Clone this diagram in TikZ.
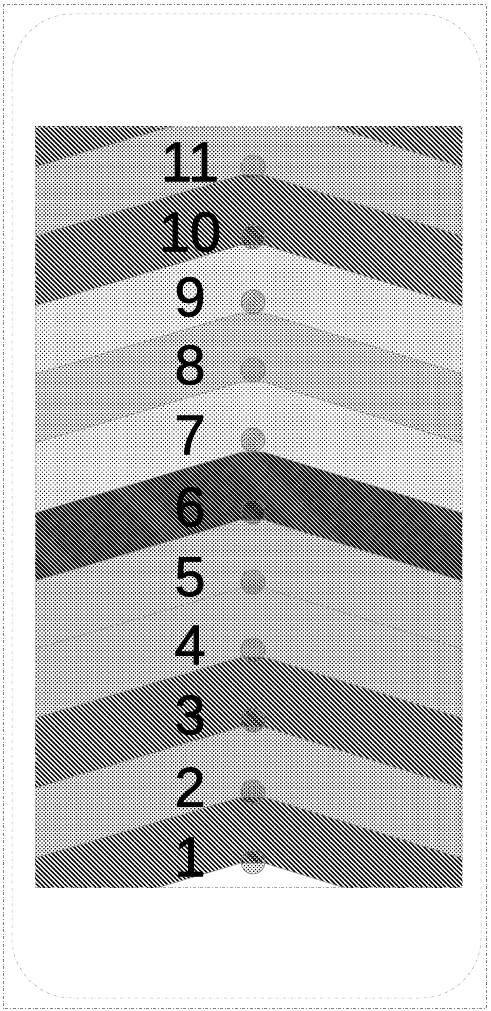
\documentclass[tikz,border=0pt]{standalone}
\usepackage{fontspec}
\setmainfont{Liberation Sans}
\usetikzlibrary{patterns.meta}
\begin{document}
\begin{tikzpicture}[x=1pt,y=-1pt,
  hatch/.style={pattern={Lines[angle=-45,distance=3.3pt,line width=1.5pt]},pattern color=black},
  hatchdark/.style={pattern={Lines[angle=-45,distance=3pt,line width=1.9pt]},pattern color=black},
  dotsmed/.style={pattern={Dots[angle=45,distance=2.7pt,radius=0.9pt]},pattern color=black},
  dotslight/.style={pattern={Dots[angle=45,distance=3pt,radius=0.75pt]},pattern color=black},
  dotscirc/.style={pattern={Dots[angle=45,distance=2.6pt,radius=0.8pt]},pattern color=black},
  bline/.style={draw=gray!80,line width=0.6pt},
  numlabel/.style={font=\fontsize{56}{56}\selectfont\addfontfeature{FakeBold=1.2},inner sep=0pt},
  marker/.style={circle,minimum size=24pt,inner sep=0pt,draw=gray,line width=0.7pt,dotscirc}]
\useasboundingbox (0,0) rectangle (490,1011);
\draw[dash dot,gray,line width=0.5pt] (3,4) rectangle (486,1008);
\draw[dash dot,gray!70,line width=0.5pt,rounded corners=60pt] (12,14) rectangle (481,998);
\begin{scope}
\clip (35,127) rectangle (462,887);
\fill[hatch] (35,100) -- (462,100) -- (462,167) -- (264,106) -- (241,106) -- (35,167) -- cycle;
\foreach \a/\b/\s in {106/175/dotsmed,175/245/hatch,245/313/dotslight,313/382/dotsmed,382/452/dotslight,452/520/hatchdark,520/588/dotsmed,588/657/dotsmed,657/727/hatch,727/797/dotsmed,797/863/hatch}{
  \fill[\s] (35,{\a+61}) -- (241,\a) -- (264,\a) -- (462,{\a+61}) -- (462,{\b+61}) -- (264,\b) -- (241,\b) -- (35,{\b+61}) -- cycle;
}
\foreach \a in {106,175,245,313,382,452,520,588,657,727,797,863}{
  \draw[bline] (35,{\a+61}) -- (241,\a) -- (264,\a) -- (462,{\a+61});
}
\end{scope}
\draw[dash dot,gray!70,line width=0.5pt] (35,127) rectangle (462,887);
\foreach \n/\y in {11/167,10/237,9/302,8/370,7/440,6/512,5/582,4/650,3/720,2/792,1/862}{
  \node[marker] (c\n) at (253,\y) {};
  \node[numlabel] (n\n) at (190,{\y-5}) {\n};
}
\end{tikzpicture}
\end{document}
